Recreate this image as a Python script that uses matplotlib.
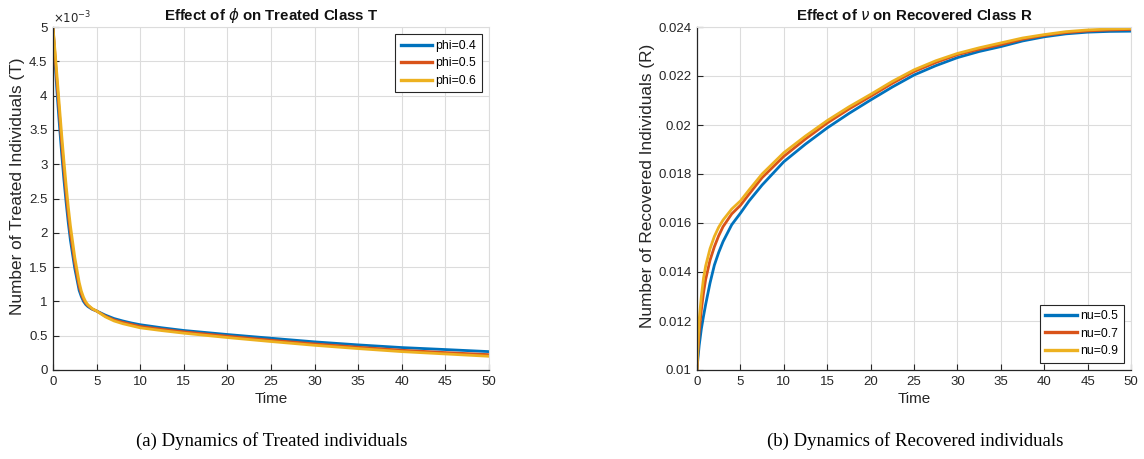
import matplotlib
matplotlib.use("Agg")
import matplotlib.pyplot as plt
from matplotlib.ticker import FuncFormatter, MultipleLocator

# ---------------- data ----------------
t_T = [0, 0.25, 0.5, 0.75, 1, 1.25, 1.5, 1.75, 2, 2.5, 3, 3.25, 3.5, 3.75, 4, 4.5, 5,
       6, 7, 8, 9, 10, 12.5, 15, 20, 25, 30, 35, 40, 45, 50]
T_phi04 = [5.0, 4.45, 3.98, 3.55, 3.15, 2.78, 2.45, 2.15, 1.89, 1.48, 1.16, 1.07, 1.0,
           0.955, 0.925, 0.885, 0.86, 0.80, 0.75, 0.715, 0.685, 0.66,
           0.615, 0.576, 0.517, 0.463, 0.41, 0.366, 0.327, 0.298, 0.268]
T_phi05 = [5.0, 4.55, 4.12, 3.71, 3.30, 2.93, 2.58, 2.27, 2.0, 1.56, 1.22, 1.11, 1.03,
           0.975, 0.94, 0.89, 0.86, 0.785, 0.73, 0.695, 0.665, 0.635,
           0.593, 0.556, 0.493, 0.434, 0.38, 0.332, 0.288, 0.254, 0.224]
T_phi06 = [5.0, 4.62, 4.22, 3.82, 3.42, 3.05, 2.70, 2.38, 2.10, 1.64, 1.28, 1.15, 1.06,
           0.995, 0.95, 0.895, 0.86, 0.775, 0.715, 0.675, 0.645, 0.615,
           0.574, 0.537, 0.473, 0.415, 0.36, 0.312, 0.268, 0.234, 0.2]
T_scale = 1e-3

t_R = [0, 0.1, 0.25, 0.5, 0.75, 1, 1.5, 2, 2.5, 3, 4, 5, 6, 7.5, 10, 12.5, 15, 17.5, 20,
       22.5, 25, 27.5, 30, 32.5, 35, 37.5, 40, 42.5, 45, 47.5, 50]
R_nu05 = [0.0100, 0.01045, 0.0110, 0.01168, 0.01220, 0.01268, 0.01355, 0.01428, 0.01480,
          0.01524, 0.01593, 0.01640, 0.01690, 0.01755, 0.01850, 0.01922, 0.01988, 0.02047,
          0.02102, 0.02155, 0.02204, 0.02242, 0.02275, 0.02300, 0.02320, 0.02343, 0.02360,
          0.02372, 0.02379, 0.02382, 0.02383]
R_nu07 = [0.0100, 0.0107, 0.01155, 0.01245, 0.01315, 0.01370, 0.01448, 0.01503, 0.01548,
          0.01585, 0.01637, 0.01672, 0.01718, 0.01785, 0.01872, 0.01943, 0.02008, 0.02065,
          0.02117, 0.02170, 0.02218, 0.02255, 0.02287, 0.02309, 0.02328, 0.02350, 0.02366,
          0.02377, 0.02384, 0.02388, 0.02390]
R_nu09 = [0.0100, 0.0110, 0.01205, 0.01300, 0.01375, 0.01425, 0.01495, 0.01545, 0.01583,
          0.01612, 0.01657, 0.01690, 0.01735, 0.01800, 0.01887, 0.01955, 0.02018, 0.02074,
          0.02125, 0.02178, 0.02225, 0.02262, 0.02292, 0.02315, 0.02335, 0.02355, 0.02369,
          0.02381, 0.02388, 0.02392, 0.02394]

labels_T = ["phi=0.4", "phi=0.5", "phi=0.6"]
labels_R = ["nu=0.5", "nu=0.7", "nu=0.9"]
colors = ["#0072BD", "#D95319", "#EDB120"]

# ---------------- style ----------------
plt.rcParams['font.family'] = ['Liberation Sans', 'DejaVu Sans']
plt.rcParams['mathtext.fontset'] = 'dejavusans'
txt = "#262626"
gridc = "#dcdcdc"

fig = plt.figure(figsize=(11.44, 4.59), dpi=100)
axL = fig.add_axes([53/1144, 1-370/459, 436/1144, 343/459])
axR = fig.add_axes([697/1144, 1-370/459, 434/1144, 343/459])

def style(ax):
    ax.grid(True, color=gridc, linewidth=0.8)
    ax.set_axisbelow(True)
    for s in ["left", "bottom"]:
        ax.spines[s].set_color(txt)
        ax.spines[s].set_linewidth(0.9)
    for s in ["top", "right"]:
        ax.spines[s].set_color(gridc)
        ax.spines[s].set_linewidth(0.8)
    ax.tick_params(direction="in", length=4, width=0.8, colors=txt,
                   labelsize=9.5, top=False, right=False, pad=4)
    ax.set_xlim(0, 50)
    ax.xaxis.set_major_locator(MultipleLocator(5))
    ax.set_xlabel("Time", fontsize=11, color=txt, labelpad=3)

def legend(ax, loc):
    lg = ax.legend(loc=loc, fontsize=8.8, frameon=True, fancybox=False,
                   edgecolor=txt, handlelength=2.6, handletextpad=0.25,
                   borderpad=0.45, labelspacing=0.45, borderaxespad=0.6,
                   framealpha=1)
    lg.get_frame().set_linewidth(0.8)
    for h in lg.get_lines():
        h.set_linewidth(2.4)
    return lg

# Left
for vals, lab, c in zip([T_phi04, T_phi05, T_phi06], labels_T, colors):
    axL.plot(t_T, [v * T_scale for v in vals], color=c, lw=2.0, label=lab)
style(axL)
axL.set_ylim(0, 5e-3)
axL.yaxis.set_major_locator(MultipleLocator(0.5e-3))
axL.yaxis.set_major_formatter(FuncFormatter(lambda v, p: "%g" % round(v / T_scale, 4)))
axL.set_ylabel("Number of Treated Individuals (T)", fontsize=12.4, color=txt)
axL.yaxis.set_label_coords(-0.064, 0.536)
axL.set_title(r"Effect of $\phi$ on Treated Class T", fontsize=10.8, fontweight="bold",
              color="#111111", pad=5)
axL.text(0.0, 1.003, r"$\times10^{-3}$", transform=axL.transAxes, fontsize=8.5,
         color=txt, ha="left", va="bottom")
legend(axL, "upper right")

# Right
for vals, lab, c in zip([R_nu05, R_nu07, R_nu09], labels_R, colors):
    axR.plot(t_R, vals, color=c, lw=2.0, label=lab)
style(axR)
axR.set_ylim(0.01, 0.024)
axR.yaxis.set_major_locator(MultipleLocator(0.002))
axR.yaxis.set_major_formatter(FuncFormatter(lambda v, p: "%g" % round(v, 4)))
axR.set_ylabel("Number of Recovered Individuals (R)", fontsize=12.4, color=txt)
axR.yaxis.set_label_coords(-0.097, 0.536)
axR.set_title(r"Effect of $\nu$ on Recovered Class R", fontsize=10.8, fontweight="bold",
              color="#111111", pad=5)
legend(axR, "lower right")

# Captions
serif = ["Liberation Serif", "DejaVu Serif"]
fig.text(272/1144, 1-441/459, "(a) Dynamics of Treated individuals",
         family=serif, fontsize=13.5, ha="center", va="center")
fig.text(915/1144, 1-441/459, "(b) Dynamics of Recovered individuals",
         family=serif, fontsize=13.5, ha="center", va="center")

fig.savefig("out.png", dpi=100)
